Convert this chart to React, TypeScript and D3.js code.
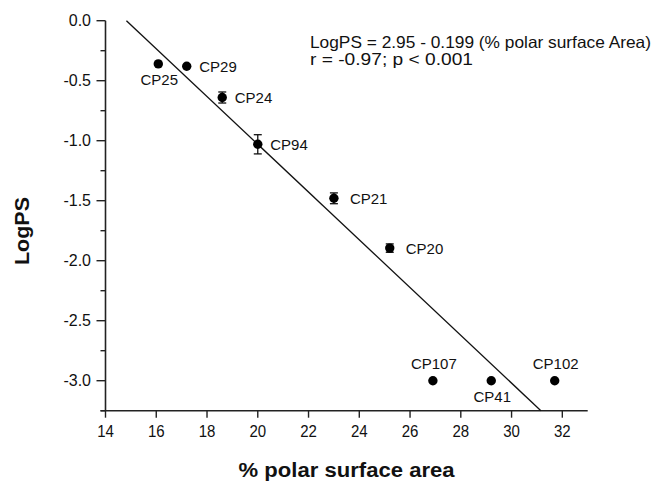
import React from "react";
import * as d3 from "d3";

const compounds = ["CP25", "CP29", "CP24", "CP94", "CP21", "CP20", "CP107", "CP41", "CP102"];
const polarArea = [16.08, 17.2, 18.6, 20.0, 23.0, 25.2, 26.9, 29.2, 31.7];
const logPS = [-0.36, -0.38, -0.64, -1.03, -1.48, -1.895, -3.0, -3.0, -3.0];
const errors = [0.0, 0.0, 0.046, 0.08, 0.045, 0.035, 0.0, 0.0, 0.0];
const labelSide = ["below", "right", "right", "right", "right", "right", "above", "below", "above"];
const xTicks = [14, 16, 18, 20, 22, 24, 26, 28, 30, 32];
const yTicks = [0, -0.5, -1.0, -1.5, -2.0, -2.5, -3.0];
const yMinorTicks = [-0.25, -0.75, -1.25, -1.75, -2.25, -2.75, -3.25];
const intercept = 2.95;
const slope = -0.199;
const equationLines = ["LogPS = 2.95 - 0.199 (% polar surface Area)", "r = -0.97; p < 0.001"];
const equationWidths = [341, 163];

const W = 653;
const H = 482;
const FONT = "'Liberation Sans', Arial, sans-serif";

export default function App() {
  const x = d3.scaleLinear().domain([14, 33]).range([105.5, 587.7]);
  const y = d3.scaleLinear().domain([0, -3.25]).range([20.7, 410.7]);
  const x0 = 14;
  const yBottom = -3.25;

  const regX1 = (0 - intercept) / slope;
  const regX2 = (yBottom - intercept) / slope;
  const line = d3.line<[number, number]>().x((d) => x(d[0])).y((d) => y(d[1]));
  const regPath = line([
    [regX1, intercept + slope * regX1],
    [regX2, intercept + slope * regX2],
  ]);

  return (
    <svg
      width={W}
      height={H}
      style={{ position: "absolute", left: 0, top: 0, background: "#fff" }}
      fontFamily={FONT}
    >
      {/* axes */}
      <line x1={x(x0) - 5} x2={x(33)} y1={y(yBottom)} y2={y(yBottom)} stroke="#222" strokeWidth={1.6} />
      <line x1={x(x0)} x2={x(x0)} y1={y(0)} y2={y(yBottom)} stroke="#222" strokeWidth={1.6} />
      {xTicks.map((t) => (
        <g key={"xt" + t}>
          <line x1={x(t)} x2={x(t)} y1={y(yBottom)} y2={y(yBottom) + 7} stroke="#222" strokeWidth={1.4} />
          <text x={x(t)} y={437.3} textAnchor="middle" fontSize={16} fill="#111" textLength={16.7} lengthAdjust="spacingAndGlyphs">
            {t}
          </text>
        </g>
      ))}
      {yTicks.map((t) => (
        <g key={"yt" + t}>
          <line x1={x(x0) - 9} x2={x(x0)} y1={y(t)} y2={y(t)} stroke="#222" strokeWidth={1.4} />
          <text x={91} y={y(t) + 5.5} textAnchor="end" fontSize={16} fill="#111">
            {t.toFixed(1)}
          </text>
        </g>
      ))}
      {yMinorTicks.map((t) => (
        <line key={"ym" + t} x1={x(x0) - 5} x2={x(x0)} y1={y(t)} y2={y(t)} stroke="#222" strokeWidth={1.4} />
      ))}

      {/* axis titles */}
      <text
        x={(x(14) + x(33)) / 2}
        y={477.3}
        textAnchor="middle"
        fontSize={19.5}
        fontWeight="bold"
        fill="#111"
        textLength={216}
        lengthAdjust="spacingAndGlyphs"
      >
        % polar surface area
      </text>
      <text
        transform={`translate(28.5, 231) rotate(-90)`}
        textAnchor="middle"
        fontSize={19.5}
        fontWeight="bold"
        fill="#111"
        textLength={68}
        lengthAdjust="spacingAndGlyphs"
      >
        LogPS
      </text>

      {/* regression line */}
      <path d={regPath ?? ""} stroke="#111" strokeWidth={1.3} fill="none" />

      {/* points */}
      {compounds.map((c, i) => {
        const px = x(polarArea[i]);
        const py = y(logPS[i]);
        const e = errors[i];
        const side = labelSide[i];
        let lx = px + 12.5;
        let ly = py + 5.5;
        let anchor: "start" | "middle" = "start";
        if (side === "below") {
          lx = px + 1;
          ly = py + 21;
          anchor = "middle";
        } else if (side === "above") {
          lx = px + 1;
          ly = py - 11.5;
          anchor = "middle";
        } else if (i >= 4) {
          lx = px + 16;
        }
        return (
          <g key={c}>
            {e > 0 && (
              <g stroke="#111" strokeWidth={1.3}>
                <line x1={px} x2={px} y1={y(logPS[i] + e)} y2={y(logPS[i] - e)} />
                <line x1={px - 4} x2={px + 4} y1={y(logPS[i] + e)} y2={y(logPS[i] + e)} />
                <line x1={px - 4} x2={px + 4} y1={y(logPS[i] - e)} y2={y(logPS[i] - e)} />
              </g>
            )}
            <circle cx={px} cy={py} r={4.7} fill="#000" />
            <text x={lx} y={ly} textAnchor={anchor} fontSize={15} fill="#111">
              {c}
            </text>
          </g>
        );
      })}

      {/* equation */}
      {equationLines.map((l, i) => (
        <text
          key={l}
          x={310}
          y={48 + i * 17}
          fontSize={16.5}
          fill="#111"
          textLength={equationWidths[i]}
          lengthAdjust="spacingAndGlyphs"
        >
          {l}
        </text>
      ))}
    </svg>
  );
}
